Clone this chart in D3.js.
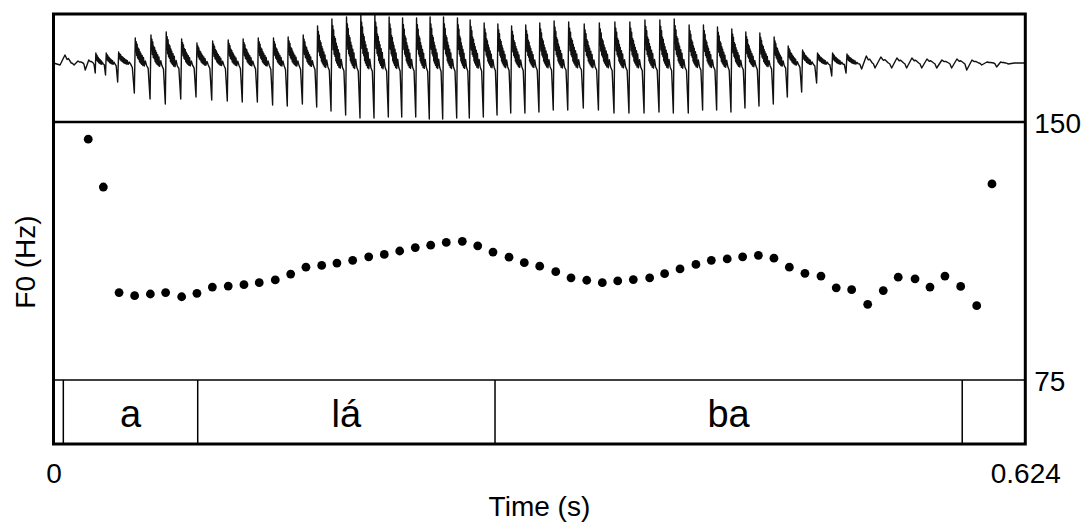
<!DOCTYPE html>
<html><head><meta charset="utf-8">
<script src="https://cdn.jsdelivr.net/npm/d3@7"></script>
<style>
body{margin:0;background:#fff;}
svg{display:block;}
text{font-family:"Liberation Sans", Arial, Helvetica, sans-serif; fill:#000;}
</style>
</head><body>
<svg id="chart" width="1088" height="525"></svg>
<script>
// ---- data ----
const pitchTimes = [0.0223,0.0320,0.0421,0.0521,0.0622,0.0720,0.0823,0.0921,0.1020,0.1122,
  0.1223,0.1321,0.1424,0.1523,0.1621,0.1722,0.1820,0.1921,0.2024,0.2124,
  0.2223,0.2323,0.2422,0.2522,0.2625,0.2724,0.2822,0.2925,0.3023,0.3122,
  0.3225,0.3323,0.3424,0.3524,0.3623,0.3723,0.3828,0.3924,0.4023,0.4125,
  0.4224,0.4326,0.4425,0.4526,0.4626,0.4725,0.4825,0.4928,0.5026,0.5125,
  0.5228,0.5328,0.5424,0.5532,0.5628,0.5724,0.5825,0.5928,0.6026];
const pitchHz = [145.0,131.1,100.4,99.5,100.0,100.4,99.2,100.2,102.0,102.3,
  102.7,103.3,104.1,105.8,107.8,108.3,109.0,109.8,110.8,111.5,
  112.5,113.5,114.2,115.0,115.3,114.0,112.2,110.7,109.1,108.1,
  106.5,104.7,104.0,103.3,103.8,104.2,104.7,105.9,107.3,108.6,
  109.8,110.2,110.8,111.25,110.4,107.8,106.0,105.2,101.8,101.25,
  97.0,101.0,104.9,104.4,102.0,105.2,102.2,96.6,132.0];

// waveform: glottal pulse times with the trough / peak amplitude of each cycle
const pulseTimes = [0.0042,0.0132,0.0204,0.0268,0.0334,0.0412,0.0519,0.0620,0.0718,0.0817,
  0.0915,0.1016,0.1116,0.1212,0.1309,0.1407,0.1501,0.1598,0.1690,0.1782,
  0.1876,0.1968,0.2058,0.2150,0.2236,0.2326,0.2413,0.2499,0.2589,0.2670,
  0.2760,0.2848,0.2936,0.3027,0.3117,0.3209,0.3302,0.3402,0.3499,0.3599,
  0.3695,0.3792,0.3888,0.3980,0.4076,0.4168,0.4258,0.4350,0.4440,0.4530,
  0.4622,0.4712,0.4804,0.4900,0.4997,0.5089,0.5189,0.5275,0.5382,0.5478,
  0.5575,0.5671,0.5767,0.5864,0.5960,0.6056,0.6129];
const pulseMin = [-0.02,-0.02,-0.07,-0.10,-0.12,-0.19,-0.30,-0.36,-0.41,-0.36,
  -0.34,-0.37,-0.38,-0.39,-0.39,-0.42,-0.43,-0.41,-0.44,-0.48,
  -0.52,-0.55,-0.55,-0.54,-0.54,-0.54,-0.56,-0.56,-0.55,-0.55,
  -0.54,-0.52,-0.50,-0.50,-0.49,-0.47,-0.47,-0.45,-0.47,-0.50,
  -0.50,-0.50,-0.49,-0.50,-0.50,-0.47,-0.47,-0.49,-0.45,-0.43,
  -0.41,-0.34,-0.29,-0.20,-0.13,-0.10,-0.06,-0.05,-0.05,-0.05,
  -0.05,-0.05,-0.05,-0.07,-0.02,-0.04,-0.01];
const pulseMax = [0.08,0.02,0.03,0.10,0.10,0.11,0.25,0.28,0.31,0.24,
  0.20,0.22,0.23,0.24,0.25,0.25,0.26,0.28,0.37,0.44,
  0.46,0.48,0.48,0.46,0.45,0.45,0.46,0.46,0.45,0.43,
  0.40,0.39,0.37,0.38,0.40,0.42,0.41,0.39,0.40,0.41,
  0.41,0.43,0.43,0.44,0.38,0.38,0.36,0.34,0.31,0.30,
  0.26,0.17,0.13,0.10,0.10,0.09,0.07,0.06,0.05,0.05,
  0.04,0.03,0.04,0.03,0.01,0.01,0.00];

const intervalBounds = [0, 0.0063, 0.0926, 0.2835, 0.5835, 0.624];
const intervalLabels = ["", "a", "lá", "ba", ""];
const timeTicks = [0, 0.624];
const timeTickLabels = ["0", "0.624"];
const f0Ticks = [150, 75];
const f0TickLabels = ["150", "75"];
const xTitle = "Time (s)";
const yTitle = "F0 (Hz)";

// ---- layout ----
const L = 53.5, R = 1025.3, T = 14, WB = 122, PB = 380, B = 444;
const svg = d3.select("#chart");

const x = d3.scaleLinear().domain([0, 0.624]).range([L, R]);
const yF = d3.scaleLinear().domain([75, 150]).range([PB, WB]);
const yW = d3.scaleLinear().domain([-0.59, 0.49]).range([WB, T]);

// ---- waveform ----
const ripple = [[0.06,1.0],[0.09,0.45],[0.12,0.85],[0.15,0.3],[0.18,0.75],[0.21,0.2],[0.24,0.6],
  [0.27,0.15],[0.30,0.55],[0.33,0.05],[0.36,0.45],[0.39,0.0],[0.42,0.38],[0.46,-0.05],
  [0.50,0.3],[0.54,-0.1],[0.58,0.22],[0.63,-0.12],[0.70,0.08],[0.78,-0.1]];
const smooth = [[0.35,1.0],[0.5,0.45],[0.6,0.55],[0.8,0.0]];
const wpts = [[0, 0]];
pulseTimes.forEach((t, i) => {
  const next = i < pulseTimes.length - 1 ? pulseTimes[i+1] : t + 0.012;
  const P = next - t;
  wpts.push([t, pulseMin[i]]);
  const tpl = Math.abs(pulseMin[i]) > 0.085 ? ripple : smooth;
  tpl.forEach(([f, v]) => wpts.push([t + f*P, v * pulseMax[i]]));
  if (i < pulseTimes.length - 1) wpts.push([t + 0.88*P, 0.15 * pulseMin[i+1]]);
});
wpts.push([0.624, 0]);

svg.append("clipPath").attr("id","wclip").append("rect")
  .attr("x", L).attr("y", T).attr("width", R-L).attr("height", WB-T);
svg.append("path")
  .datum(wpts)
  .attr("clip-path","url(#wclip)")
  .attr("fill","none").attr("stroke","#111").attr("stroke-width",1.4)
  .attr("stroke-linejoin","round")
  .attr("d", d3.line().x(d => x(d[0])).y(d => yW(d[1])));

// ---- pitch dots ----
svg.append("g").selectAll("circle")
  .data(pitchTimes.map((t,i) => [t, pitchHz[i]]))
  .join("circle")
  .attr("cx", d => x(d[0])).attr("cy", d => yF(d[1])).attr("r", 4.4)
  .attr("fill","#000");

// ---- text grid tier ----
const tier = svg.append("g");
intervalBounds.slice(1, -1).forEach(b => {
  tier.append("line").attr("x1", x(b)).attr("x2", x(b)).attr("y1", PB).attr("y2", B)
    .attr("stroke","#000").attr("stroke-width",1.5);
});
intervalLabels.forEach((lab, i) => {
  if (!lab) return;
  const mid = (intervalBounds[i] + intervalBounds[i+1]) / 2;
  tier.append("text").attr("x", x(mid)).attr("y", 427)
    .attr("text-anchor","middle").attr("font-size", 38).text(lab);
});

// ---- frame ----
svg.append("line").attr("x1", L).attr("x2", R).attr("y1", WB).attr("y2", WB)
  .attr("stroke","#000").attr("stroke-width",2.6);
svg.append("line").attr("x1", L).attr("x2", R).attr("y1", PB).attr("y2", PB)
  .attr("stroke","#000").attr("stroke-width",1.6);
svg.append("rect").attr("x", L).attr("y", T).attr("width", R-L).attr("height", B-T)
  .attr("fill","none").attr("stroke","#000").attr("stroke-width",3);

// ---- axes labels ----
const bottomAxis = d3.axisBottom(x).tickValues(timeTicks)
  .tickFormat((d,i) => timeTickLabels[i]).tickSize(0).tickPadding(0);
const gb = svg.append("g").attr("transform", `translate(0,${B})`).call(bottomAxis);
gb.select(".domain").remove();
gb.selectAll("text").attr("font-size", 28).attr("font-family", "Liberation Sans, Arial, sans-serif")
  .attr("y", 39).attr("dy", 0).attr("fill","#000");

const rightAxis = d3.axisRight(yF).tickValues(f0Ticks)
  .tickFormat((d,i) => f0TickLabels[i]).tickSize(0).tickPadding(0);
const gr = svg.append("g").attr("transform", `translate(${R},0)`).call(rightAxis);
gr.select(".domain").remove();
gr.selectAll("text").attr("font-size", 28).attr("font-family", "Liberation Sans, Arial, sans-serif")
  .attr("x", 9).attr("dy", "0.36em").attr("fill","#000");

svg.append("text").attr("x", (L+R)/2).attr("y", 516).attr("text-anchor","middle")
  .attr("font-size", 28).text(xTitle);
svg.append("text").attr("transform", "translate(35,262) rotate(-90)")
  .attr("text-anchor","middle").attr("font-size", 28).text(yTitle);
</script>
</body></html>
